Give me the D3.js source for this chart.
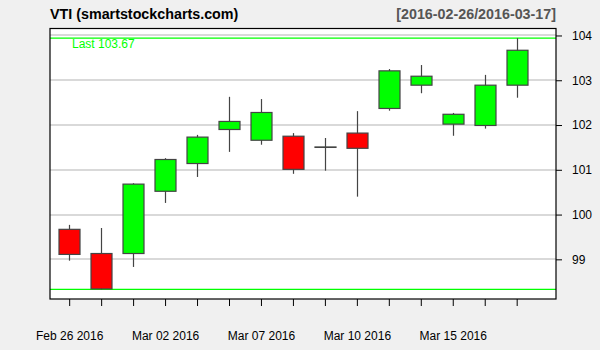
<!DOCTYPE html>
<html>
<head>
<meta charset="utf-8">
<script src="https://cdn.jsdelivr.net/npm/d3@7"></script>
<style>
  body { margin: 0; background: #f0f0f0; }
  svg { display: block; font-family: "Liberation Sans", Arial, sans-serif; }
</style>
</head>
<body>
<div id="chart"></div>
<script>
const dates = ["Feb 26 2016", "Feb 29 2016", "Mar 01 2016", "Mar 02 2016", "Mar 03 2016",
  "Mar 04 2016", "Mar 07 2016", "Mar 08 2016", "Mar 09 2016", "Mar 10 2016",
  "Mar 11 2016", "Mar 14 2016", "Mar 15 2016", "Mar 16 2016", "Mar 17 2016"];
const open  = [99.67, 99.13, 99.13, 100.52, 101.14, 101.90, 101.66, 101.75, 101.50, 101.82, 102.37, 102.89, 102.02, 101.99, 102.89];
const high  = [99.77, 99.70, 100.70, 101.26, 101.78, 102.63, 102.58, 101.82, 101.71, 102.31, 103.25, 103.34, 102.27, 103.12, 103.94];
const low   = [98.97, 98.33, 98.83, 100.26, 100.84, 101.40, 101.56, 100.91, 100.98, 100.40, 102.32, 102.71, 101.76, 101.92, 102.61];
const close = [99.11, 98.34, 100.68, 101.23, 101.73, 102.08, 102.28, 101.01, 101.51, 101.48, 103.21, 103.09, 102.24, 102.89, 103.67];
const yTicks = [99, 100, 101, 102, 103, 104];
const labelIdx = [0, 3, 6, 9, 12];
const title = "VTI (smartstockcharts.com)";
const range = "[2016-02-26/2016-03-17]";
const last = close[close.length - 1];

const W = 600, H = 350;
const plot = { left: 50, right: 556, top: 28.5, bottom: 299 };

const svg = d3.select("#chart").append("svg")
  .attr("width", W).attr("height", H);

svg.append("rect").attr("width", W).attr("height", H).attr("fill", "#f0f0f0");

const x = d3.scaleLinear().domain([-0.6, 15.23]).range([plot.left, plot.right]);
const y = d3.scaleLinear().domain([98.114, 104.156]).range([plot.bottom, plot.top]);

svg.append("rect")
  .attr("x", plot.left).attr("y", plot.top)
  .attr("width", plot.right - plot.left).attr("height", plot.bottom - plot.top)
  .attr("fill", "#fff");

// grid
svg.append("g").selectAll("line").data(yTicks).enter().append("line")
  .attr("x1", plot.left).attr("x2", plot.right)
  .attr("y1", d => Math.round(y(d))).attr("y2", d => Math.round(y(d)))
  .attr("stroke", "#cccccc").attr("stroke-width", 1.5);

// period high / low lines
const hiLo = [d3.max(high), d3.min(low)];
svg.append("g").selectAll("line").data(hiLo).enter().append("line")
  .attr("x1", plot.left).attr("x2", plot.right)
  .attr("y1", d => y(d)).attr("y2", d => y(d))
  .attr("stroke", "#00ff00").attr("stroke-width", 1.2);

svg.append("text")
  .attr("x", 72).attr("y", 47.5)
  .attr("fill", "#00ff00").attr("font-size", 12)
  .text("Last " + last.toFixed(2));

// candles
const bw = 21;
const candles = svg.append("g").selectAll("g").data(dates).enter().append("g");

candles.append("line")
  .attr("x1", (d, i) => Math.round(x(i)) + 0.5).attr("x2", (d, i) => Math.round(x(i)) + 0.5)
  .attr("y1", (d, i) => y(high[i])).attr("y2", (d, i) => y(low[i]))
  .attr("stroke", "#444").attr("stroke-width", 1.2);

candles.append("rect")
  .attr("x", (d, i) => Math.round(x(i)) + 0.5 - bw / 2)
  .attr("width", bw)
  .attr("y", (d, i) => y(Math.max(open[i], close[i])))
  .attr("height", (d, i) => Math.max(0.1, Math.abs(y(open[i]) - y(close[i]))))
  .attr("fill", (d, i) => close[i] >= open[i] ? "#00ff00" : "#ff0000")
  .attr("stroke", "#444").attr("stroke-width", 1.2);

// border
svg.append("rect")
  .attr("x", plot.left).attr("y", plot.top)
  .attr("width", plot.right - plot.left).attr("height", plot.bottom - plot.top)
  .attr("fill", "none").attr("stroke", "#000").attr("stroke-width", 1.2);

// x axis
const xAxis = d3.axisBottom(x)
  .tickValues(d3.range(dates.length))
  .tickSize(7)
  .tickFormat(i => labelIdx.includes(i) ? dates[i] : "");
const gx = svg.append("g").attr("transform", `translate(0,${plot.bottom})`).call(xAxis);
gx.select(".domain").remove();
gx.selectAll(".tick line").attr("stroke", "#000");
gx.selectAll(".tick text").attr("font-size", 12).attr("fill", "#000")
  .attr("font-family", "Liberation Sans, Arial, sans-serif")
  .attr("dy", 0).attr("y", 41);

// y axis
const yAxis = d3.axisRight(y).tickValues(yTicks).tickSize(6).tickPadding(10)
  .tickFormat(d3.format("d"));
const gy = svg.append("g").attr("transform", `translate(${plot.right},0)`).call(yAxis);
gy.select(".domain").remove();
gy.selectAll(".tick line").attr("stroke", "#000");
gy.selectAll(".tick text").attr("font-size", 12).attr("fill", "#000")
  .attr("font-family", "Liberation Sans, Arial, sans-serif");

// titles
svg.append("text").attr("x", plot.left).attr("y", 19)
  .attr("font-size", 14.3).attr("font-weight", "bold").attr("fill", "#000")
  .text(title);
svg.append("text").attr("x", plot.right).attr("y", 19)
  .attr("text-anchor", "end")
  .attr("font-size", 14.3).attr("font-weight", "bold").attr("fill", "#555")
  .text(range);
</script>
</body>
</html>
